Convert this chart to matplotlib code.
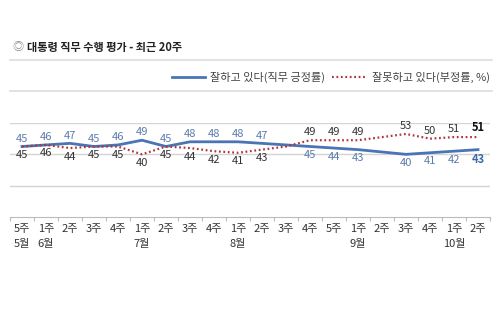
import numpy as np
import matplotlib
matplotlib.use('Agg')
import matplotlib.pyplot as plt
from matplotlib.lines import Line2D

plt.rcParams['font.family'] = ['Noto Sans CJK KR', 'DejaVu Sans']

weeks = ['5주', '1주', '2주', '3주', '4주', '1주', '2주', '3주', '4주', '1주',
         '2주', '3주', '4주', '5주', '1주', '2주', '3주', '4주', '1주', '2주']
months = ['5월', '6월', '', '', '', '7월', '', '', '', '8월',
          '', '', '', '', '9월', '', '', '', '10월', '']
positive = [45, 46, 47, 45, 46, 49, 45, 48, 48, 48,
            47, 46, 45, 44, 43, np.nan, 40, 41, 42, 43]
negative = [45, 46, 44, 45, 45, 40, 45, 44, 42, 41,
            43, 45, 49, 49, 49, np.nan, 53, 50, 51, 51]
hide_label = [11]

blue = '#4a74b4'
blue_txt = '#5b7cad'
red = '#b0353a'
grey = '#d4d4d4'

fig = plt.figure(figsize=(5, 3.32), dpi=100)
ax = fig.add_axes([0.02, 1 - 217 / 332, 0.96, 94 / 332])

x = np.arange(len(weeks))
pos = np.array(positive, dtype=float)
neg = np.array(negative, dtype=float)
ok = ~np.isnan(pos)

ax.plot(x[ok], pos[ok], color=blue, lw=2, solid_joinstyle='round', zorder=3)
ax.plot(x[ok], neg[ok], color=red, lw=1.6, linestyle=(0, (0.8, 1.2)), zorder=3)

fs = 8
for i in x[ok]:
    if i in hide_label:
        continue
    p, n = pos[i], neg[i]
    last = i == len(weeks) - 1
    wt = 'bold' if last else 'normal'
    if p >= n:
        ax.annotate('%d' % p, (i, p), xytext=(0, 2), textcoords='offset points',
                    ha='center', va='bottom', fontsize=fs, color=blue_txt, fontweight=wt)
        ax.annotate('%d' % n, (i, n), xytext=(0, -2.5), textcoords='offset points',
                    ha='center', va='top', fontsize=fs, color='#333333', fontweight=wt)
    else:
        ax.annotate('%d' % n, (i, n), xytext=(0, 2), textcoords='offset points',
                    ha='center', va='bottom', fontsize=fs,
                    color='#111111' if last else '#333333', fontweight=wt)
        ax.annotate('%d' % p, (i, p), xytext=(0, -2.5), textcoords='offset points',
                    ha='center', va='top', fontsize=fs,
                    color='#3f6aa6' if last else blue_txt, fontweight=wt)

ax.set_xlim(-0.5, len(weeks) - 0.5)
ax.set_ylim(0, 60)
ax.set_yticks([])
for yv in [20, 40, 60]:
    ax.axhline(yv, color=grey, lw=1, zorder=1)

for s in ['top', 'left', 'right']:
    ax.spines[s].set_visible(False)
ax.spines['bottom'].set_color('#bbbbbb')

ax.set_xticks(x)
ax.set_xticklabels([w + ('\n' + m if m else '') for w, m in zip(weeks, months)],
                   fontsize=8, color='#333333', linespacing=1.65)
ax.tick_params(axis='x', which='major', length=0, pad=5)
ax.set_xticks(np.arange(-0.5, len(weeks)), minor=True)
ax.tick_params(axis='x', which='minor', length=3, color='#bbbbbb', width=0.8)

# title and legend
fig.text(12 / 500, 1 - 47 / 332, '◎', fontsize=8, color='#888888', va='center')
fig.text(27 / 500, 1 - 47 / 332, '대통령 직무 수행 평가 - 최근 20주', fontsize=8,
         fontweight='bold', color='#222222', va='center')
for yy in [60, 91]:
    fig.add_artist(Line2D([10 / 500, 492 / 500], [1 - yy / 332, 1 - yy / 332],
                          color='#dddddd', lw=1.2))

ly = 1 - 77 / 332
fig.add_artist(Line2D([172 / 500, 205 / 500], [ly, ly], color=blue, lw=2))
fig.text(210 / 500, ly, '잘하고 있다(직무 긍정률)', fontsize=8, color='#444444', va='center')
fig.add_artist(Line2D([332 / 500, 365 / 500], [ly, ly], color=red, lw=1.6,
                      linestyle=(0, (0.8, 1.2))))
fig.text(372 / 500, ly, '잘못하고 있다(부정률, %)', fontsize=8, color='#444444', va='center')

fig.savefig('out.png', dpi=100)
